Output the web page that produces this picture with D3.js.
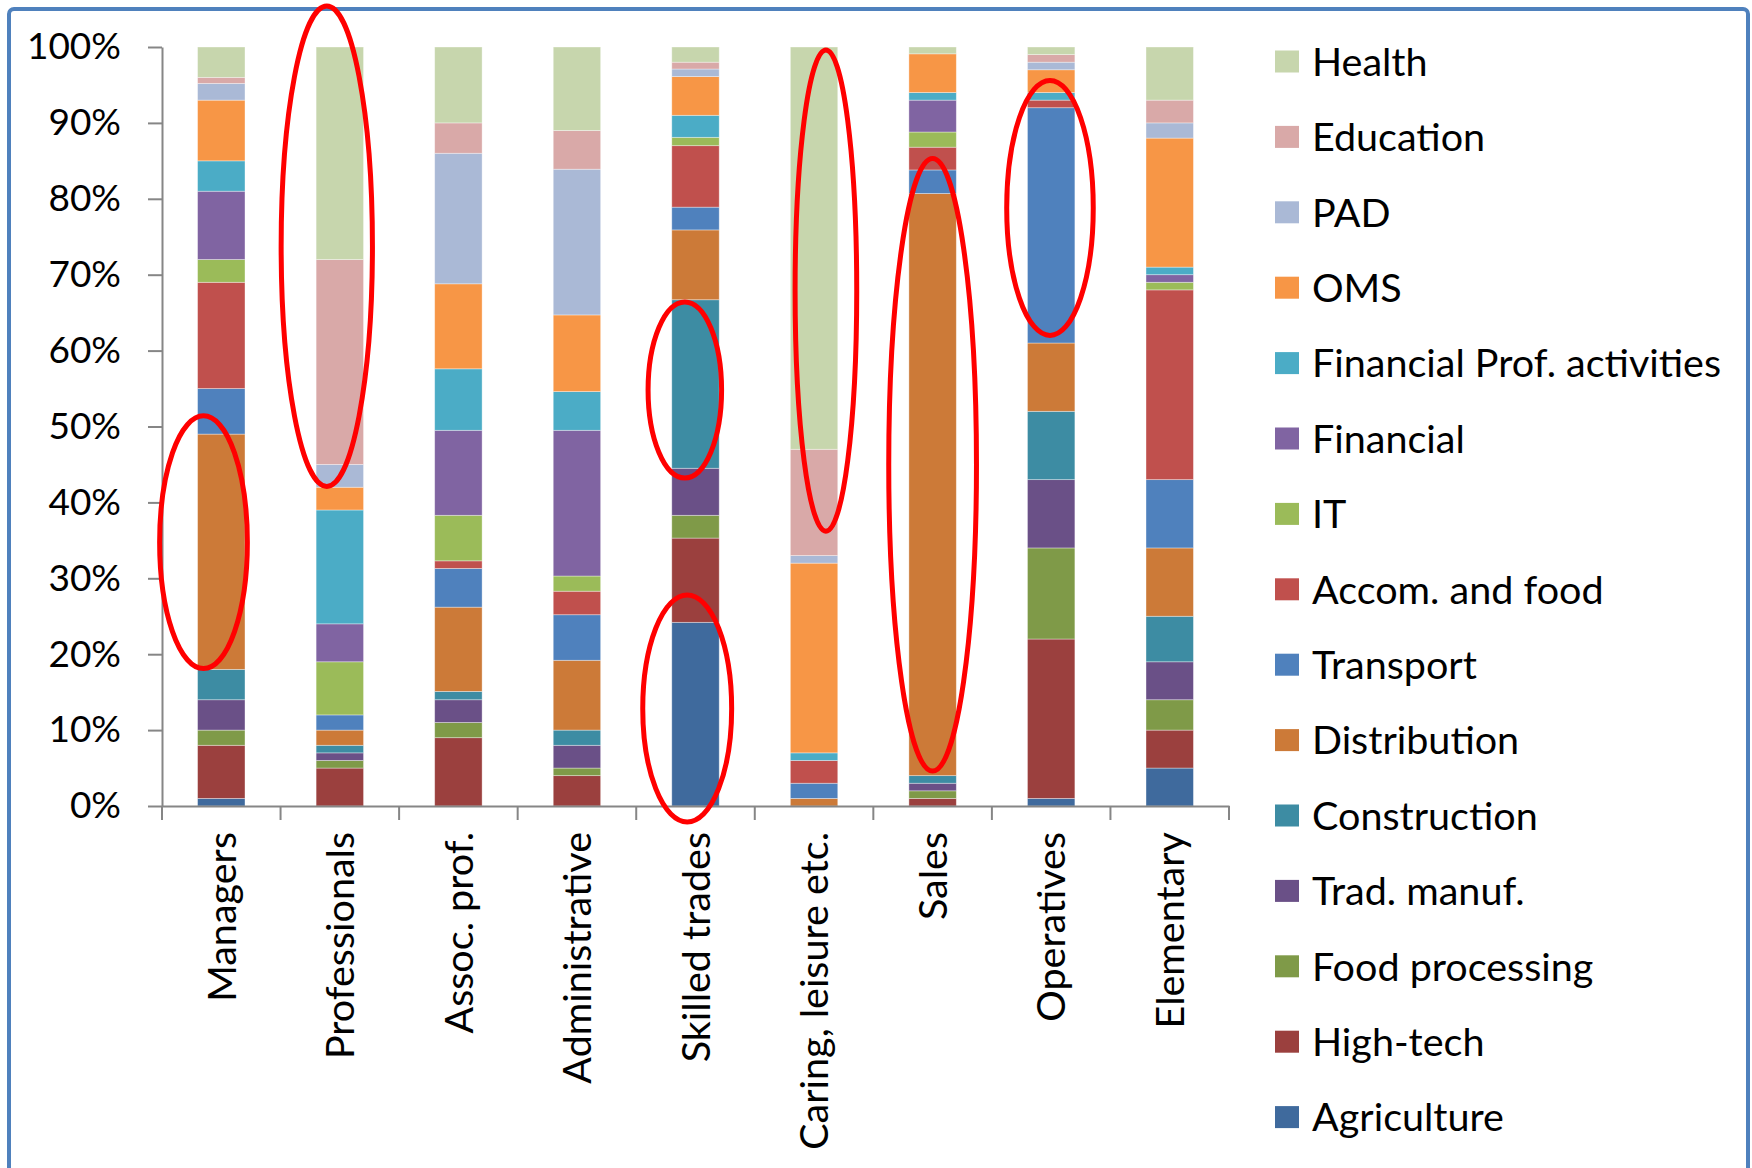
<!DOCTYPE html>
<html>
<head>
<meta charset="utf-8">
<script src="https://cdn.jsdelivr.net/npm/d3@7"></script>
<style>
html,body{margin:0;padding:0;background:#fff;}
svg{display:block;}
text{font-family:Lato,"Open Sans",sans-serif;}
</style>
</head>
<body>
<svg id="chart" width="1752" height="1168"></svg>
<script>
const categories = ["Managers","Professionals","Assoc. prof.","Administrative","Skilled trades","Caring, leisure etc.","Sales","Operatives","Elementary"];
const seriesNames = ["Agriculture","High-tech","Food processing","Trad. manuf.","Construction","Distribution","Transport","Accom. and food","IT","Financial","Financial Prof. activities","OMS","PAD","Education","Health"];
const seriesColors = ["#3F6A9D","#9B403E","#7F9A48","#6A5087","#3D8CA3","#CC7A38","#4F81BD","#C0504D","#9BBB59","#8064A2","#4BACC6","#F79646","#AAB9D6","#D9A9A8","#C7D6AD"];
// values (%) per category, in series order
const managers       = [1, 7, 2, 4, 4, 31, 6, 14, 3, 9, 4, 8, 2.2, 0.8, 4];
const professionals  = [0, 5, 1, 1, 1, 2, 2, 0, 7, 5, 15, 3, 3, 27, 28];
const assocProf      = [0, 9, 2, 3, 1.1, 11.1, 5.1, 1, 6, 11.2, 8.1, 11.2, 17.2, 4, 10];
const administrative = [0, 4, 1, 3, 2, 9.2, 6, 3.1, 2, 19.2, 5.1, 10.1, 19.2, 5.1, 11];
const skilledTrades  = [24.2, 11.1, 3, 6.2, 22.2, 9.2, 3, 8.1, 1.1, 0, 2.9, 5.1, 1, 0.9, 2];
const caring         = [0, 0, 0, 0, 0, 1, 2, 3, 0, 0, 1, 25, 1, 14, 53];
const sales          = [0, 1, 1, 1, 1, 76.7, 3.1, 3, 2, 4.2, 1, 5.1, 0, 0, 0.9];
const operatives     = [1, 21, 12, 9, 9, 9, 31, 1, 0, 0, 1, 3, 1, 1, 1];
const elementary     = [5, 5, 4, 5, 6, 9, 9, 25, 1, 1, 1, 17, 2, 3, 7];
const yTicks = [0, 0.1, 0.2, 0.3, 0.4, 0.5, 0.6, 0.7, 0.8, 0.9, 1.0];
// highlight ellipses: category, value top, value bottom, horizontal offset (fraction of step), half-width (fraction of step)
const highlights = [
  {cat:"Managers", vTop:0.514, vBottom:0.181, off:-0.15, hw:0.37},
  {cat:"Professionals", vTop:1.054, vBottom:0.421, off:-0.11, hw:0.385},
  {cat:"Skilled trades", vTop:0.664, vBottom:0.432, off:-0.09, hw:0.31},
  {cat:"Skilled trades", vTop:0.278, vBottom:-0.021, off:-0.07, hw:0.375},
  {cat:"Caring, leisure etc.", vTop:0.996, vBottom:0.362, off:0.10, hw:0.26},
  {cat:"Sales", vTop:0.853, vBottom:0.046, off:0.0, hw:0.37},
  {cat:"Operatives", vTop:0.956, vBottom:0.62, off:-0.01, hw:0.365}
];

const rows = [managers, professionals, assocProf, administrative, skilledTrades, caring, sales, operatives, elementary];
const data = categories.map((c, i) => {
  const o = {category: c};
  seriesNames.forEach((s, j) => o[s] = rows[i][j]);
  return o;
});

const svg = d3.select("#chart");
const yFontSize = 37;
const fontSize = 39.5;

// frame
svg.append("rect").attr("x", 9).attr("y", 9).attr("width", 1739).attr("height", 1200)
  .attr("rx", 5).attr("fill", "#fff").attr("stroke", "#4F81BD").attr("stroke-width", 4);

const plotLeft = 162, plotRight = 1229, plotTop = 47, plotBottom = 806;
const x = d3.scaleBand().domain(categories).range([plotLeft, plotRight]).paddingInner(0.6).paddingOuter(0.3);
const y = d3.scaleLinear().domain([0, 1]).range([plotBottom, plotTop]);
const color = d3.scaleOrdinal().domain(seriesNames).range(seriesColors);

const stack = d3.stack().keys(seriesNames).offset(d3.stackOffsetExpand);
const stacked = stack(data);

const g = svg.append("g");
g.selectAll("g.series").data(stacked).join("g").attr("class", "series")
  .attr("fill", d => color(d.key))
  .selectAll("rect").data(d => d).join("rect")
  .attr("x", d => x(d.data.category))
  .attr("width", x.bandwidth())
  .attr("y", d => y(d[1]))
  .attr("height", d => Math.max(0, y(d[0]) - y(d[1])))
  .attr("stroke", "rgba(255,255,255,0.45)")
  .attr("stroke-width", 0.8);

// y axis
const yAxis = d3.axisLeft(y).tickValues(yTicks).tickFormat(d3.format(".0%")).tickSize(14).tickSizeOuter(0).tickPadding(27);
const ya = svg.append("g").attr("transform", `translate(${plotLeft},0)`).call(yAxis);
ya.select(".domain").attr("stroke", "#868686").attr("stroke-width", 2);
ya.selectAll(".tick line").attr("stroke", "#868686").attr("stroke-width", 2);
ya.selectAll(".tick text").attr("font-size", yFontSize).attr("fill", "#000").attr("font-family", "Lato, sans-serif");

// x axis
const xAxis = d3.axisBottom(x).tickSize(0).tickSizeOuter(0);
const xa = svg.append("g").attr("transform", `translate(0,${plotBottom})`).call(xAxis);
xa.select(".domain").attr("stroke", "#868686").attr("stroke-width", 2);
xa.selectAll(".tick text")
  .attr("font-size", fontSize).attr("fill", "#000").attr("font-family", "Lato, sans-serif")
  .attr("transform", "rotate(-90)")
  .attr("text-anchor", "end")
  .attr("x", -26).attr("y", 0).attr("dy", "0.36em");
// category boundary ticks
const gap = (x.step() - x.bandwidth()) / 2;
const bounds = categories.map(c => x(c) - gap).concat([x(categories[categories.length - 1]) + x.bandwidth() + gap]);
xa.selectAll("line.bound").data(bounds).join("line").attr("class", "bound")
  .attr("x1", d => d).attr("x2", d => d).attr("y1", 0).attr("y2", 14)
  .attr("stroke", "#868686").attr("stroke-width", 2);

// highlight ellipses
svg.append("g").selectAll("ellipse").data(highlights).join("ellipse")
  .attr("cx", d => x(d.cat) + x.bandwidth() / 2 + d.off * x.step())
  .attr("cy", d => (y(d.vTop) + y(d.vBottom)) / 2)
  .attr("rx", d => d.hw * x.step())
  .attr("ry", d => (y(d.vBottom) - y(d.vTop)) / 2)
  .attr("fill", "none").attr("stroke", "#FF0000").attr("stroke-width", 5);

// legend
const legendItems = seriesNames.slice().reverse();
const lg = svg.append("g").selectAll("g").data(legendItems).join("g")
  .attr("transform", (d, i) => `translate(1275,${61.5 + i * 75.4})`);
lg.append("rect").attr("x", 0).attr("y", -11).attr("width", 24).attr("height", 22).attr("fill", d => color(d));
lg.append("text").attr("x", 37).attr("y", 0).attr("dy", "0.36em")
  .attr("font-size", fontSize).attr("fill", "#000").text(d => d);
</script>
</body>
</html>
